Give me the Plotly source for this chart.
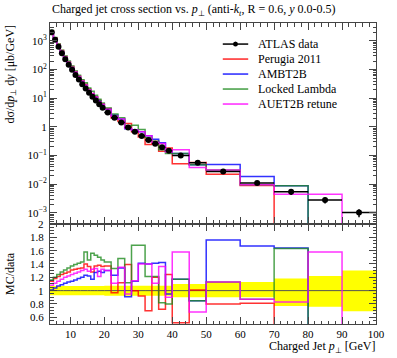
import plotly.graph_objects as go

# ---------------- data ----------------
bin_edges = [4, 5, 6, 7, 8, 9, 10, 11, 12, 13, 14, 15, 16, 17, 18, 19, 20,
             22, 24, 26, 28, 30, 32, 34, 36, 38, 40, 45, 50, 60, 70, 80, 90, 100]

atlas_data = [2000, 1100, 631, 372, 229, 148, 98, 65, 45, 31, 22, 15.5, 11.2, 8.3,
              6.2, 4.7, 3.2, 2.1, 1.41, 0.95, 0.68, 0.48, 0.35, 0.26, 0.195, 0.148,
              0.100, 0.056, 0.0275, 0.011, 0.0054, 0.0028, 0.00102]

# relative data uncertainty (up / down)
rel_err_up = [0.07] * 16 + [0.075] * 10 + [0.10, 0.10, 0.13, 0.13, 0.18, 0.22, 0.30]
rel_err_dn = [0.07] * 16 + [0.075] * 10 + [0.10, 0.10, 0.10, 0.10, 0.23, 0.24, 0.31]

# MC / data ratios
ratio_perugia = [1.14, 1.18, 1.21, 1.24, 1.26, 1.28, 1.31, 1.32, 1.33, 1.34, 1.40, 1.36,
                 1.28, 1.37, 1.38, 1.36, 1.37, 0.97, 1.12, 1.39, 1.00, 0.92, 0.70, 1.20,
                 0.72, 1.24, 0.52, 1.01, 0.80, 0.81, 0.0, 0.0, 0.0]
ratio_ambt2b = [1.01, 1.04, 1.07, 1.09, 1.11, 1.13, 1.14, 1.16, 1.18, 1.20, 1.23, 1.22,
                1.17, 1.27, 1.29, 1.27, 1.30, 1.23, 1.34, 0.91, 1.14, 1.41, 1.40, 1.41,
                1.42, 0.95, 1.17, 0.85, 1.76, 1.67, 1.64, 0.0, 0.0]
ratio_locked = [1.16, 1.20, 1.24, 1.28, 1.31, 1.34, 1.37, 1.39, 1.41, 1.43, 1.58, 1.46,
                1.56, 1.53, 1.50, 1.46, 1.43, 1.33, 1.48, 1.12, 1.68, 1.68, 1.21, 1.21,
                0.82, 0.80, 1.17, 0.85, 1.13, 0.87, 1.63, 0.0, 0.0]
ratio_auet2b = [1.08, 1.11, 1.14, 1.17, 1.20, 1.22, 1.24, 1.26, 1.28, 1.30, 1.32, 1.29,
                1.32, 1.33, 1.21, 1.32, 1.30, 1.11, 1.35, 0.95, 1.15, 1.40, 1.40, 1.11,
                1.36, 0.90, 1.58, 0.68, 1.13, 0.87, 0.83, 1.58, 0.0]

legend_names = ["ATLAS data", "Perugia 2011", "AMBT2B", "Locked Lambda", "AUET2B retune"]
mc_names = legend_names[1:]
mc_ratios = [ratio_perugia, ratio_ambt2b, ratio_locked, ratio_auet2b]
mc_colors = ["#ff0000", "#0000ff", "#218c21", "#ff00ff"]

x_major = [10, 20, 30, 40, 50, 60, 70, 80, 90, 100]
ratio_major = [0.6, 0.8, 1.0, 1.2, 1.4, 1.6, 1.8, 2.0]
ratio_labels = ["0.6", "0.8", "1", "1.2", "1.4", "1.6", "1.8", "2"]

title_text = ("Charged jet cross section vs. <i>p</i><sub>⊥</sub> (anti-<i>k</i><sub><i>t</i></sub>, "
              "R = 0.6, <i>y</i> 0.0-0.5)")

# ---------------- helpers ----------------
centers = [(a + b) / 2 for a, b in zip(bin_edges[:-1], bin_edges[1:])]
halfw = [(b - a) / 2 for a, b in zip(bin_edges[:-1], bin_edges[1:])]


def step(vals):
    return list(vals) + [vals[-1]]


FONT = "Liberation Serif"
fig = go.Figure()

# ratio band (data uncertainty)
band_lo = [1 - e for e in rel_err_dn]
band_hi = [1 + e for e in rel_err_up]
fig.add_trace(go.Scatter(x=bin_edges, y=step(band_lo), mode="lines", line=dict(width=0, shape="hv"),
                         xaxis="x2", yaxis="y2", showlegend=False, hoverinfo="skip"))
fig.add_trace(go.Scatter(x=bin_edges, y=step(band_hi), mode="lines", line=dict(width=0, shape="hv"),
                         fill="tonexty", fillcolor="#ffff00",
                         xaxis="x2", yaxis="y2", showlegend=False, hoverinfo="skip"))
# data/data line
fig.add_trace(go.Scatter(x=bin_edges, y=step([d / d for d in atlas_data]), mode="lines",
                         line=dict(width=1, color="#555555", shape="hv"),
                         xaxis="x2", yaxis="y2", showlegend=False, hoverinfo="skip"))

for name, ratio, col in zip(mc_names, mc_ratios, mc_colors):
    mc_vals = [r * d if r > 0 else 1e-12 for r, d in zip(ratio, atlas_data)]
    fig.add_trace(go.Scatter(x=bin_edges, y=step(mc_vals), mode="lines", name=name,
                             showlegend=False,
                             line=dict(color=col, width=1.5, shape="hv"), opacity=0.8))
    fig.add_trace(go.Scatter(x=bin_edges, y=step(ratio), mode="lines", showlegend=False,
                             line=dict(color=col, width=1.5, shape="hv"), opacity=0.8,
                             xaxis="x2", yaxis="y2"))

# data points in main panel
fig.add_trace(go.Scatter(
    x=centers, y=atlas_data, mode="markers", showlegend=False, name="ATLAS data",
    marker=dict(color="black", size=6),
    error_x=dict(type="data", array=halfw, color="black", thickness=1.5, width=0),
    error_y=dict(type="data", array=[d * e for d, e in zip(atlas_data, rel_err_up)],
                 arrayminus=[d * e for d, e in zip(atlas_data, rel_err_dn)],
                 color="black", thickness=1.5, width=0)))

# ---------------- legend (drawn in paper coordinates) ----------------
shapes = []
annotations = []
leg_x0, leg_x1, leg_tx = 0.530, 0.608, 0.632
leg_y0, leg_dy = 0.930, 0.0498
leg_colors = ["black"] + mc_colors
for i, (nm, col) in enumerate(zip(legend_names, leg_colors)):
    yy = leg_y0 - i * leg_dy
    shapes.append(dict(type="line", xref="paper", yref="paper", x0=leg_x0, x1=leg_x1,
                       y0=yy, y1=yy, line=dict(color=col, width=1.5),
                       opacity=1 if i == 0 else 0.85))
    annotations.append(dict(text=nm, xref="paper", yref="paper", x=leg_tx, y=yy,
                            xanchor="left", yanchor="middle", showarrow=False,
                            font=dict(family=FONT, size=12)))
dot_xc = (leg_x0 + leg_x1) / 2
dot_rx, dot_ry = 2.5 / 334, 2.5 / 301
shapes.append(dict(type="circle", xref="paper", yref="paper",
                   x0=dot_xc - dot_rx, x1=dot_xc + dot_rx,
                   y0=leg_y0 - dot_ry, y1=leg_y0 + dot_ry,
                   fillcolor="black", line=dict(color="black", width=0)))

# ratio-axis tick labels, placed on the y2 scale
for v, t in zip(ratio_major, ratio_labels):
    annotations.append(dict(text=t, xref="paper", yref="y2", x=0, y=v, xanchor="right",
                            yanchor="middle", xshift=-4, showarrow=False,
                            font=dict(family=FONT, size=11)))

TC = "#444444"
axis_common = dict(showline=True, linecolor=TC, linewidth=1, mirror="allticks",
                   ticks="inside", tickcolor=TC, zeroline=False, showgrid=False)

log_ticks = [1e3, 1e2, 1e1, 1, 1e-1, 1e-2, 1e-3]
log_text = ["10<sup>3</sup>", "10<sup>2</sup>", "10<sup>1</sup>", "1",
            "10<sup>−1</sup>", "10<sup>−2</sup>", "10<sup>−3</sup>"]
minor_log = [m * 10.0 ** e for e in range(-4, 4) for m in range(2, 10)]
minor_x = [v for v in range(4, 101, 2) if v % 10 != 0]
minor_ratio = [round(0.5 + 0.05 * k, 2) for k in range(31)]
minor_ratio = [v for v in minor_ratio if all(abs(v - m) > 1e-6 for m in ratio_major)]

annotations += [
    dict(text=title_text, xref="paper", yref="paper", x=0.0, y=1.0, xanchor="left",
         yanchor="bottom", yshift=3, showarrow=False, font=dict(family=FONT, size=12)),
    dict(text="dσ/d<i>p</i><sub>⊥</sub> d<i>y</i> [μb/GeV]", xref="paper", yref="paper",
         x=0, xshift=-40, y=1.0, xanchor="center", yanchor="top", textangle=-90,
         showarrow=False, font=dict(family=FONT, size=12)),
    dict(text="MC/data", xref="paper", yref="paper", x=0, xshift=-40, y=0.1665,
         xanchor="center", yanchor="middle", textangle=-90, showarrow=False,
         font=dict(family=FONT, size=12)),
    dict(text="Charged Jet <i>p</i><sub>⊥</sub> [GeV]", xref="paper", yref="paper",
         x=1.0, y=0, yshift=-32, xanchor="right", yanchor="bottom", showarrow=False,
         borderpad=0, font=dict(family=FONT, size=12)),
]

fig.update_layout(
    width=397, height=358,
    margin=dict(l=50, r=13, t=23, b=34),
    paper_bgcolor="white", plot_bgcolor="white",
    font=dict(family=FONT, size=12, color="black"),
    showlegend=False,
    xaxis=dict(domain=[0, 1], range=[4, 100], anchor="y", showticklabels=False,
               tickmode="array", tickvals=x_major, ticklen=7,
               minor=dict(ticks="inside", tickmode="array", tickvals=minor_x, ticklen=3.5,
                          tickcolor=TC),
               **axis_common),
    yaxis=dict(domain=[0.333, 1], type="log", range=[-3.383, 3.628], anchor="x",
               tickmode="array", tickvals=log_ticks, ticktext=log_text, ticklen=7,
               tickfont=dict(family=FONT, size=11),
               minor=dict(ticks="inside", tickmode="array", tickvals=minor_log, ticklen=3.5,
                          tickcolor=TC),
               **axis_common),
    xaxis2=dict(domain=[0, 1], range=[4, 100], anchor="y2",
                tickmode="array", tickvals=x_major, ticklen=7,
                tickfont=dict(family=FONT, size=11),
                minor=dict(ticks="inside", tickmode="array", tickvals=minor_x, ticklen=3.5,
                           tickcolor=TC),
                **axis_common),
    yaxis2=dict(domain=[0, 0.333], range=[0.5, 2.002], anchor="x2", showticklabels=False,
                tickmode="array", tickvals=ratio_major, ticklen=7,
                minor=dict(ticks="inside", tickmode="array", tickvals=minor_ratio, ticklen=3.5,
                           tickcolor=TC),
                **axis_common),
    shapes=shapes,
    annotations=annotations,
)

fig.write_html("out.html", config={"displayModeBar": False},
               post_script="document.body.style.margin='0px';document.body.style.overflow='hidden';")
